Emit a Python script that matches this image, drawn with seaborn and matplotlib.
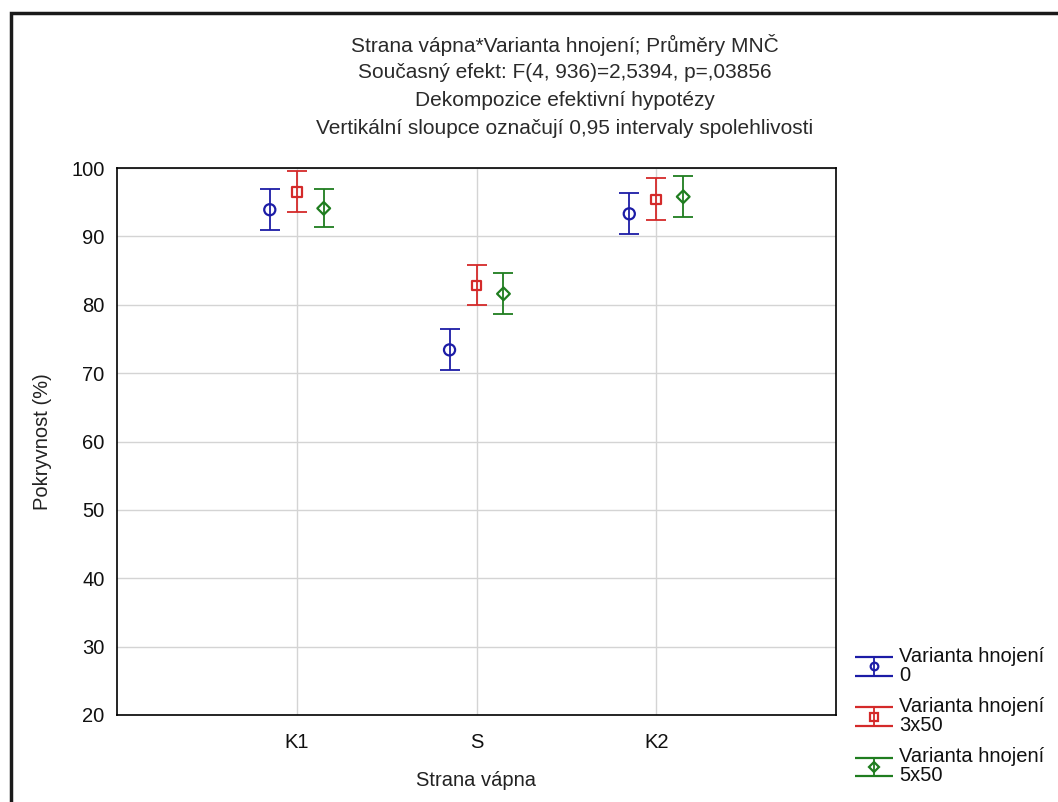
import matplotlib
matplotlib.use("Agg")
import matplotlib.pyplot as plt
import seaborn as sns
import pandas as pd
import numpy as np
from matplotlib.patches import Rectangle
from matplotlib.legend_handler import HandlerErrorbar

# ---- data ----
categories = ["K1", "S", "K2"]
groups = ["Varianta hnojení\n0", "Varianta hnojení\n3x50", "Varianta hnojení\n5x50"]
mean_0 = [93.9, 73.4, 93.3]
low_0 = [91.0, 70.5, 90.4]
high_0 = [97.0, 76.4, 96.3]
mean_3x50 = [96.5, 82.8, 95.4]
low_3x50 = [93.6, 79.9, 92.4]
high_3x50 = [99.6, 85.8, 98.5]
mean_5x50 = [94.1, 81.6, 95.8]
low_5x50 = [91.3, 78.7, 92.8]
high_5x50 = [97.0, 84.6, 98.8]

title_lines = [
    "Strana vápna*Varianta hnojení; Průměry MNČ",
    "Současný efekt: F(4, 936)=2,5394, p=,03856",
    "Dekompozice efektivní hypotézy",
    "Vertikální sloupce označují 0,95 intervaly spolehlivosti",
]

means = [mean_0, mean_3x50, mean_5x50]
lows = [low_0, low_3x50, low_5x50]
highs = [high_0, high_3x50, high_5x50]

rows = []
for gi, g in enumerate(groups):
    for ci, c in enumerate(categories):
        rows.append({"cat": c, "pos": ci, "group": g, "mean": means[gi][ci],
                     "low": lows[gi][ci], "high": highs[gi][ci]})
df = pd.DataFrame(rows)

sns.set_theme(style="white")
plt.rcParams['font.family'] = ['Liberation Sans', 'DejaVu Sans']

colors = ["#1c1ca6", "#d42a2a", "#1f7d1f"]
markers = ["o", "s", "D"]
msizes = [8, 7, 6.5]
offsets = [-0.15, 0.0, 0.15]

fig = plt.figure(figsize=(10.58, 8.02), dpi=100)
ax = fig.add_axes([117/1058, 1-715/802, (836-117)/1058, (715-168)/802])

handles = []
for gi, g in enumerate(groups):
    sub = df[df["group"] == g].copy()
    sub["x"] = sub["pos"] + offsets[gi]
    yerr = np.vstack([sub["mean"] - sub["low"], sub["high"] - sub["mean"]])
    ax.errorbar(sub["x"], sub["mean"], yerr=yerr, fmt="none", ecolor=colors[gi],
                elinewidth=1.3, capsize=7, capthick=1.3, zorder=3)
    sns.scatterplot(data=sub, x="x", y="mean", ax=ax, marker=markers[gi], s=msizes[gi]**2,
                    facecolor="none", edgecolor=colors[gi], linewidth=1.6, zorder=4, legend=False)
    hl = ax.errorbar([np.nan], [np.nan], yerr=[[1], [1]], fmt=markers[gi], color=colors[gi],
                     mfc="none", mec=colors[gi], ms=5.5, mew=1.6, elinewidth=1.3, capsize=14,
                     capthick=1.3, label=g)
    handles.append(hl)

ax.set_xlim(-1, 3)
ax.set_ylim(20, 100)
ax.set_xticks(range(len(categories)))
ax.set_xticklabels(categories)
ax.set_yticks(range(20, 101, 10))
ax.grid(True, color="#d4d4d4", linewidth=1.0, zorder=0)
ax.set_axisbelow(True)
for sp in ax.spines.values():
    sp.set_color("black")
    sp.set_linewidth(1.2)
ax.tick_params(axis="both", direction="in", length=4, width=1, colors="black",
               labelsize=14.5, labelcolor="#111111")
ax.tick_params(axis="x", pad=13)
ax.tick_params(axis="y", pad=9)
ax.set_xlabel("Strana vápna", fontsize=14.5, color="#222222", labelpad=14)
ax.set_ylabel("Pokryvnost (%)", fontsize=14.5, color="#222222", labelpad=14)

cx = 565 / 1058
ys = [45, 72, 100, 129]
for t, yy in zip(title_lines, ys):
    fig.text(cx, 1 - yy/802, t, ha="center", va="center", fontsize=15, color="#2a2a2a")

leg = fig.legend(handles=handles, labels=groups, loc="upper left",
                 bbox_to_anchor=(854/1058, 1 - 647/802), frameon=False, fontsize=14.5,
                 handlelength=2.0, handletextpad=0.25, labelspacing=0.6, borderaxespad=0,
                 borderpad=0, handler_map={type(handles[0]): HandlerErrorbar(yerr_size=0.45)})
for t in leg.get_texts():
    t.set_linespacing(1.0)
    t.set_color("#111111")

fig.patches.append(Rectangle((11/1058, -0.05), 1.1, 1 - 13/802 + 0.05, transform=fig.transFigure,
                             fill=False, edgecolor="#1a1a1a", linewidth=2.5))

fig.savefig("out.png", dpi=100)
